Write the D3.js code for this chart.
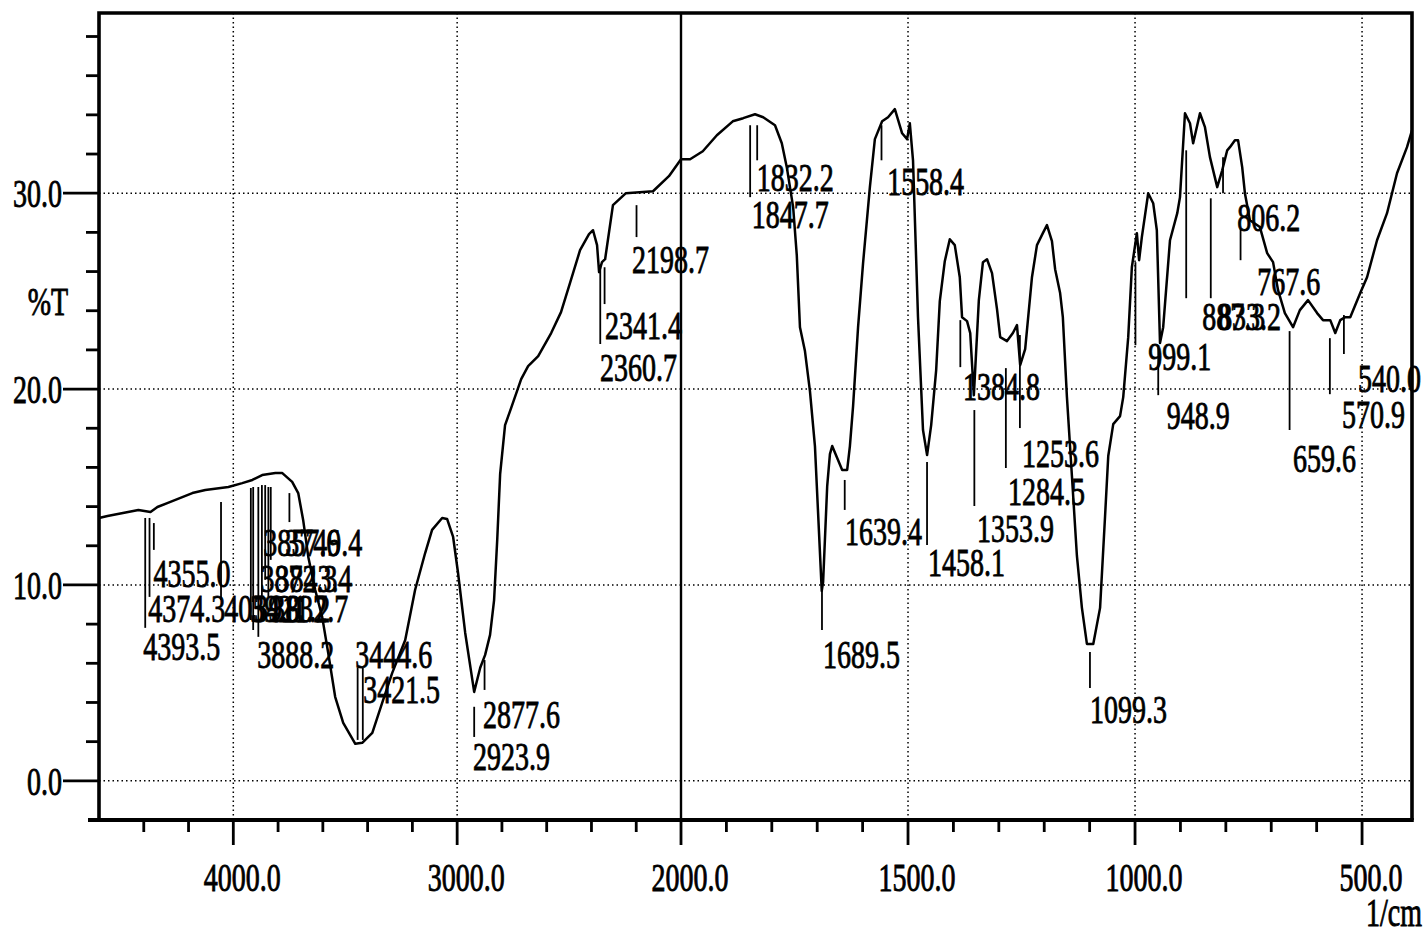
<!DOCTYPE html>
<html><head><meta charset="utf-8">
<script src="https://cdn.jsdelivr.net/npm/d3@7"></script>
<style>html,body{margin:0;padding:0;background:#fff;} svg{display:block;}</style>
</head><body><svg id="c" width="1424" height="933"></svg>
<script>
// ---- data: IR spectrum [wavenumber (1/cm), %T] ----
const spectrum = [
[4600,13.42],[4562,13.52],[4424,13.83],[4370,13.72],[4339,13.98],[4295,14.18],[4183,14.69],[4125,14.85],[4022,15.0],[3960,15.2],
[3915,15.36],[3871,15.61],[3812,15.71],[3781,15.71],[3737,15.26],[3710,14.69],[3688,13.32],[3665,11.43],[3634,9.74],[3603,8.37],
[3576,6.53],[3545,4.29],[3509,2.96],[3455,1.89],[3424,1.94],[3379,2.45],[3335,3.98],[3290,5.51],[3232,7.19],[3188,9.74],
[3143,11.63],[3112,12.81],[3067,13.42],[3045,13.37],[3018,12.45],[2996,10.61],[2964,7.55],[2924,4.54],[2897,5.77],[2875,6.43],
[2853,7.45],[2835,9.23],[2821,12.30],[2808,15.66],[2786,18.16],[2759,19.03],[2714,20.51],[2683,21.17],[2638,21.68],[2580,22.86],
[2536,23.93],[2496,25.41],[2451,27.09],[2411,27.91],[2393,28.11],[2375,27.35],[2366,25.97],[2353,26.48],[2339,26.63],[2304,29.39],
[2246,30.0],[2125,30.10],[2054,30.87],[2000,31.73],
[1980,31.73],[1952,32.14],[1921,32.96],[1886,33.67],[1863,33.83],[1837,34.03],[1819,33.88],[1793,33.47],[1778,32.55],[1767,31.33],
[1753,29.29],[1745,26.84],[1738,23.16],[1727,21.94],[1716,19.90],[1705,17.09],[1690,9.7],[1687,10.15],[1678,15.05],[1672,16.68],
[1667,17.09],[1656,16.48],[1645,15.87],[1634,15.87],[1628,17.09],[1621,19.13],[1610,23.16],[1599,26.43],[1584,30.31],[1573,32.76],
[1557,33.67],[1544,33.88],[1529,34.29],[1513,33.06],[1502,32.76],[1496,33.57],[1489,31.68],[1478,23.67],[1467,17.91],[1458,16.63],
[1449,18.16],[1438,20.97],[1430,24.49],[1419,26.53],[1408,27.65],[1397,27.35],[1386,25.71],[1381,23.67],[1370,23.47],[1363,22.86],
[1355,19.69],[1344,24.54],[1335,26.48],[1326,26.63],[1315,25.92],[1304,24.08],[1297,22.65],[1282,22.45],[1269,22.86],[1260,23.27],
[1253,21.22],[1242,22.04],[1227,25.71],[1216,27.35],[1203,27.96],[1194,28.37],[1183,27.55],[1176,26.12],[1165,24.90],[1159,23.67],
[1150,19.59],[1139,15.56],[1128,11.48],[1117,8.83],[1106,6.99],[1092,6.99],[1077,8.83],[1066,13.52],[1059,16.58],[1048,18.21],
[1033,18.62],[1026,19.59],[1015,22.65],[1007,26.22],[996,27.96],[991,26.58],[985,27.76],[971,30.0],[960,29.49],[952,28.11],
[945,22.35],[938,23.16],[923,27.60],[907,28.98],[901,29.80],[890,34.08],[879,33.57],[872,32.55],[857,34.08],[846,33.37],
[835,31.84],[819,30.31],[808,31.17],[797,32.19],[791,32.35],[780,32.70],[773,32.70],[764,31.33],[758,30.0],[747,28.62],
[725,28.27],[709,26.94],[696,26.48],[685,25.05],[670,23.88],[652,23.16],[637,24.03],[619,24.54],[599,23.88],[586,23.52],
[570,23.52],[559,22.86],[548,23.52],[537,23.67],[526,23.67],[504,24.90],[489,25.71],[467,27.60],[445,28.98],[423,31.02],
[401,32.35],[390,33.21]
];

// ---- axes ----
const xDomain = [4600, 2000, 390];
const yDomain = [-2, 39.2];
const xMajorTicks = [4000, 3000, 2000, 1500, 1000, 500];
const xMajorLabels = ["4000.0", "3000.0", "2000.0", "1500.0", "1000.0", "500.0"];
const xMinorTicks = [4400,4200,3800,3600,3400,3200,2800,2600,2400,2200,
                     1900,1800,1700,1600,1400,1300,1200,1100,900,800,700,600];
const xGrid = [4000, 3000, 1500, 1000, 500];
const yMajorTicks = [0, 10, 20, 30];
const yMajorLabels = ["0.0", "10.0", "20.0", "30.0"];
const yMinorTicks = [2,4,6,8,12,14,16,18,22,24,26,28,32,34,36,38];
const xUnit = "1/cm";
const yTitle = "%T";

// ---- peak annotations (data units) ----
const peakLabels = ["4393.5","4374.3","4355.0","4054.9","3921.7","3911.2","3888.2","3872.3","3857.6","3843.4","3832.7","3749.4",
  "3444.6","3421.5","2923.9","2877.6","2360.7","2341.4","2198.7","1847.7","1832.2","1689.5","1639.4","1558.4","1458.1",
  "1384.8","1353.9","1284.5","1253.6","1099.3","999.1","948.9","887.3","833.2","806.2","767.6","659.6","570.9","540.0"];
const peakWn = [4393.5,4374.3,4355.0,4054.9,3921.7,3911.2,3888.2,3872.3,3857.6,3843.4,3832.7,3749.4,
  3444.6,3421.5,2923.9,2877.6,2360.7,2341.4,2198.7,1847.7,1832.2,1689.5,1639.4,1558.4,1458.1,
  1384.8,1353.9,1284.5,1253.6,1099.3,999.1,948.9,887.3,833.2,806.2,767.6,659.6,570.9,540.0];
const peakTop = [13.42,13.42,13.16,14.23,14.95,15.0,15.0,15.10,15.10,15.0,15.0,14.69,
  5.77,5.77,3.78,6.17,26.22,26.22,29.39,33.47,33.47,9.74,15.36,33.47,16.28,
  23.52,18.93,21.07,22.76,6.58,26.48,22.24,32.19,29.74,31.84,28.21,22.96,22.60,23.78];
const peakBottom = [7.81,9.39,11.79,9.23,8.21,7.70,7.35,9.39,10.26,9.39,11.28,13.21,
  2.09,2.09,2.24,4.64,22.30,24.34,27.76,29.80,31.68,7.70,13.83,31.68,12.04,
  21.12,14.03,15.97,18.01,4.74,22.24,19.69,24.64,24.64,30.0,26.58,17.91,19.74,21.79];
const labelWn = [4402,4380,4357,4040,3924,3906,3893,3879,3866,3812,3830,3768,
  3455,3420,2929,2884,2362,2339,2219,1844,1833,1687,1639,1546,1456,
  1379,1348,1280,1249,1099,971,930,852,817,775,731,652,544,509];
const labelT = [6.17,8.11,9.90,8.11,8.11,8.11,5.77,9.64,11.48,9.64,8.11,11.48,
  5.77,3.98,0.56,2.70,20.41,22.55,25.92,28.21,30.10,5.77,12.04,29.90,10.46,
  19.44,12.19,14.08,16.02,2.96,20.97,17.96,23.01,23.01,28.06,24.80,15.77,18.01,19.85];

// ---- drawing ----
const svg = d3.select("#c");
const L = 99, R = 1412, T = 13, B = 820;
const x = d3.scaleLinear().domain(xDomain).range([L, 681, R]);
const y = d3.scaleLinear().domain(yDomain).range([B, T]);
const FONT = "'Liberation Serif','Times New Roman',serif";
function txt(str, px, py, anchor){
  svg.append("text").attr("transform", `translate(${px},${py}) scale(0.7,1)`)
    .attr("text-anchor", anchor).attr("font-family", FONT).attr("font-size", 40)
    .attr("fill", "#000").attr("stroke", "#000").attr("stroke-width", 0.9)
    .text(str);
}

// dotted gridlines
svg.append("g").selectAll("line").data(xGrid).join("line")
  .attr("x1", d => x(d)).attr("x2", d => x(d)).attr("y1", T).attr("y2", B)
  .attr("stroke", "#000").attr("stroke-width", 1.5).attr("stroke-dasharray", "1.5,3");
svg.append("g").selectAll("line").data(yMajorTicks).join("line")
  .attr("x1", L).attr("x2", R).attr("y1", d => y(d)).attr("y2", d => y(d))
  .attr("stroke", "#000").attr("stroke-width", 1.5).attr("stroke-dasharray", "1.5,3");

// 2000 split line
svg.append("line").attr("x1", x(2000)).attr("x2", x(2000)).attr("y1", T).attr("y2", B)
  .attr("stroke", "#000").attr("stroke-width", 2.4);

// frame
svg.append("path").attr("d", `M${L},${B} L${L},${T} L${R},${T} L${R},${B}`)
  .attr("fill", "none").attr("stroke", "#000").attr("stroke-width", 3.6);
svg.append("line").attr("x1", 88).attr("x2", R+1.8).attr("y1", B).attr("y2", B)
  .attr("stroke", "#000").attr("stroke-width", 3.8);

// x ticks
svg.append("g").selectAll("line").data(xMajorTicks).join("line")
  .attr("x1", d => x(d)).attr("x2", d => x(d)).attr("y1", B).attr("y2", B + 25)
  .attr("stroke", "#000").attr("stroke-width", 2.8);
svg.append("g").selectAll("line").data(xMinorTicks).join("line")
  .attr("x1", d => x(d)).attr("x2", d => x(d)).attr("y1", B).attr("y2", B + 12)
  .attr("stroke", "#000").attr("stroke-width", 2.8);
xMajorTicks.forEach((v, i) => txt(xMajorLabels[i], x(v) + 9, 891, "middle"));
txt(xUnit, 1422, 926, "end");

// y ticks
svg.append("g").selectAll("line").data(yMajorTicks).join("line")
  .attr("x1", 63).attr("x2", L).attr("y1", d => y(d)).attr("y2", d => y(d))
  .attr("stroke", "#000").attr("stroke-width", 2.8);
svg.append("g").selectAll("line").data(yMinorTicks).join("line")
  .attr("x1", L - 13).attr("x2", L).attr("y1", d => y(d)).attr("y2", d => y(d))
  .attr("stroke", "#000").attr("stroke-width", 2.8);
yMajorTicks.forEach((v, i) => txt(yMajorLabels[i], 62, y(v) + 14, "end"));
txt(yTitle, 48, y(24.5) + 14, "middle");

// spectrum
const line = d3.line().x(d => x(d[0])).y(d => y(d[1]));
svg.append("path").datum(spectrum).attr("d", line)
  .attr("fill", "none").attr("stroke", "#000").attr("stroke-width", 2.5)
  .attr("stroke-linejoin", "round");

// peak markers
peakWn.forEach((w, i) => {
  svg.append("line").attr("x1", x(w)).attr("x2", x(w))
    .attr("y1", y(peakTop[i])).attr("y2", y(peakBottom[i]))
    .attr("stroke", "#000").attr("stroke-width", 1.8);
  txt(peakLabels[i], x(labelWn[i]), y(labelT[i]), "start");
});
</script></body></html>
